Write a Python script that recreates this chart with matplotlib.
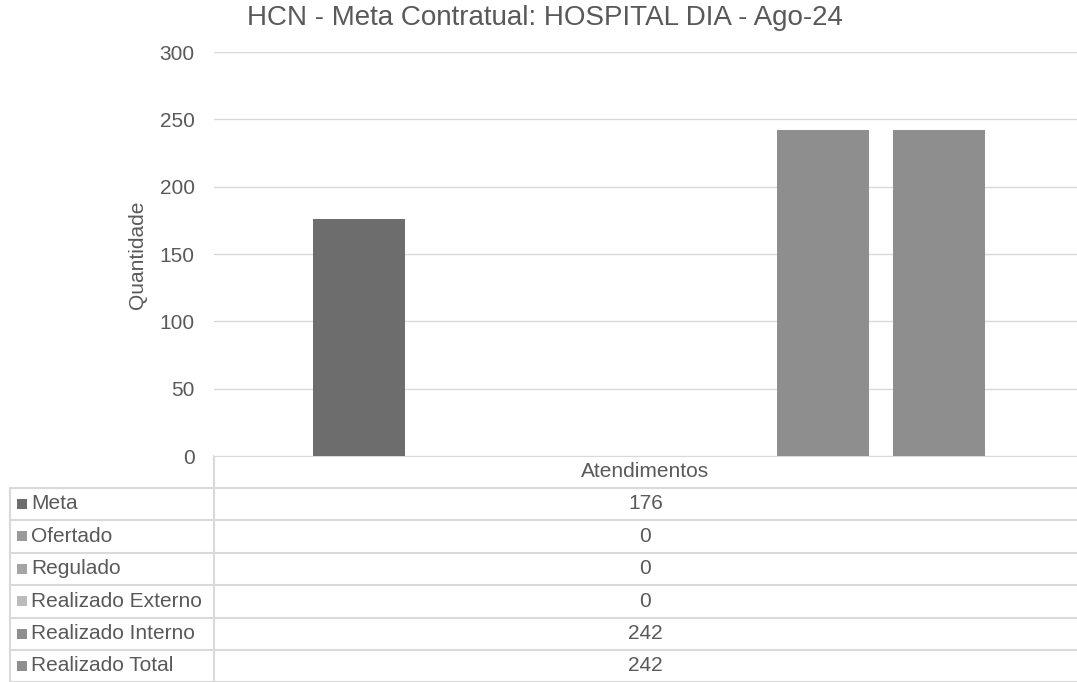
import numpy as np
import matplotlib
matplotlib.use("Agg")
import matplotlib.pyplot as plt

plt.rcParams['font.family'] = ['Liberation Sans', 'DejaVu Sans']

category = "Atendimentos"
series = ["Meta", "Ofertado", "Regulado", "Realizado Externo",
          "Realizado Interno", "Realizado Total"]
values = [176, 0, 0, 0, 242, 242]
colors = ["#6d6d6d", "#9a9a9a", "#a5a5a5", "#bcbcbc", "#8e8e8e", "#8e8e8e"]
yticks = [0, 50, 100, 150, 200, 250, 300]
title = "HCN - Meta Contratual: HOSPITAL DIA - Ago-24"

W, H = 1077, 682
fig = plt.figure(figsize=(W / 100, H / 100), dpi=100)
txt = "#595959"

# plot area in pixels
left, right, top, bottom = 214, 1077, 52, 456
ax = fig.add_axes([left / W, 1 - bottom / H, (right - left) / W, (bottom - top) / H])

span = right - left
slot = 116 / span
barw = 92 / span
center = (649 - left) / span
n = len(series)
for i, (v, c) in enumerate(zip(values, colors)):
    ax.bar(center + (i - (n - 1) / 2) * slot, v, width=barw, color=c, zorder=3)

ax.set_xlim(0, 1)
ax.set_ylim(0, 300)
ax.set_yticks(yticks)
ax.set_xticks([])
ax.yaxis.grid(True, color="#d9d9d9", linewidth=1.0, zorder=0)
for s in ax.spines.values():
    s.set_visible(False)
ax.tick_params(axis="y", length=0, pad=14, labelsize=15, labelcolor=txt)

fig.text(137 / W, 1 - 255 / H, "Quantidade", rotation=90, ha="center", va="center",
         fontsize=15, color=txt)
fig.text(545 / W, 1 - 18 / H, title, ha="center", va="center",
         fontsize=20, color=txt)

# data table drawn underneath in pixel coordinates
tb = fig.add_axes([0, 0, 1, 1], zorder=-1)
tb.set_xlim(0, W)
tb.set_ylim(H, 0)
tb.axis("off")
lc = "#d9d9d9"
row_y = [456, 487.5, 520, 552.5, 585, 617.5, 650, 681.5]
for k, y in enumerate(row_y):
    x0 = left if k == 0 else 10
    tb.plot([x0, W], [y, y], color=lc, lw=1.5)
tb.plot([10, 10], [row_y[1], row_y[-1]], color=lc, lw=1.5)
tb.plot([left, left], [row_y[0], row_y[-1]], color=lc, lw=1.5)

cx = (left + right) / 2
tb.text(cx, (row_y[0] + row_y[1]) / 2, category, ha="center", va="center",
        fontsize=15, color=txt)
for i, (name, v, c) in enumerate(zip(series, values, colors)):
    yc = (row_y[i + 1] + row_y[i + 2]) / 2
    tb.scatter([21.5], [yc], marker="s", s=55, color=c, linewidths=0)
    tb.text(31, yc, name, ha="left", va="center", fontsize=15, color=txt)
    tb.text(cx, yc, str(v), ha="center", va="center", fontsize=15, color=txt)

fig.savefig("out.png", dpi=100)
